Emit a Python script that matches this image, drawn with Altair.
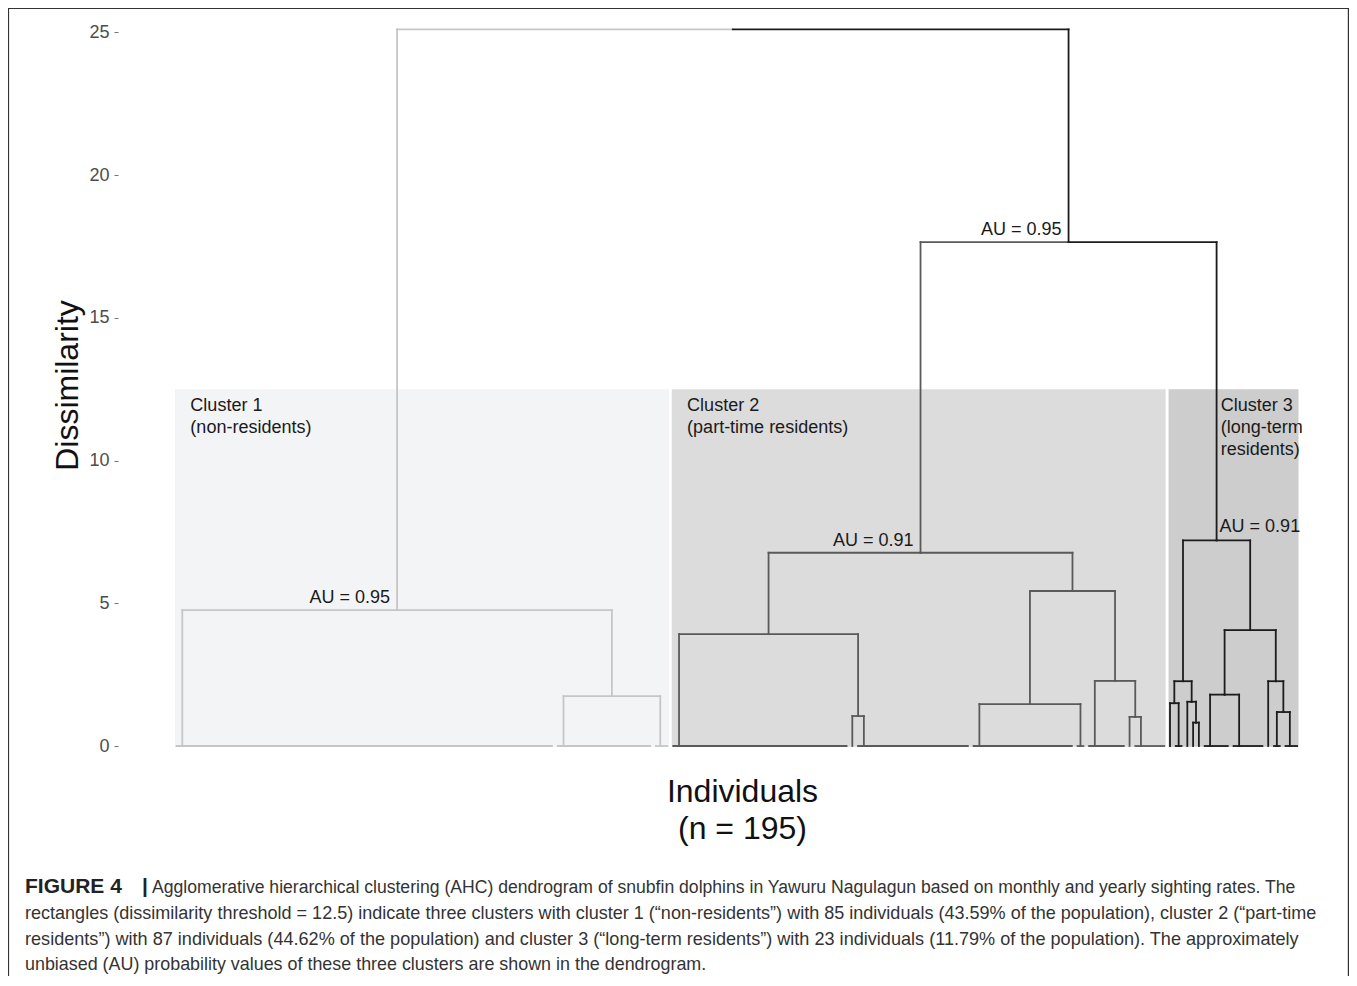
import altair as alt
import pandas as pd

# ---------------- data ----------------
# blocks of individuals that are joined at dissimilarity 0, left to right
group_sizes = [66, 17, 3, 31, 1, 20, 18, 2, 7, 1, 6, 1, 2, 1, 1, 1, 5, 6, 1, 2, 3]
group_cluster = [1, 1, 1, 2, 2, 2, 2, 2, 2, 2, 2, 3, 3, 3, 3, 3, 3, 3, 3, 3, 3]
# R-style merge table: negative = block number, positive = earlier merge row
merge_left = [-2, -1, -5, -4, -7, -10, -9, 5, 4, -12, -15, -14, 10, -17, -20, -19, 14, 13, 9, 2]
merge_right = [-3, 1, -6, 3, -8, -11, 6, 7, 8, -13, -16, 11, 12, -18, -21, 15, 16, 17, 18, 19]
merge_height = [1.75, 4.76, 1.05, 3.92, 1.47, 1.02, 2.28, 5.43, 6.77, 1.50, 0.82, 1.55,
                2.27, 1.80, 1.19, 2.27, 4.06, 7.20, 17.65, 25.10]

threshold = 12.5
cluster_ids = ["1", "2", "3"]
cluster_texts = ["Cluster 1\n(non-residents)", "Cluster 2\n(part-time residents)",
                 "Cluster 3\n(long-term\nresidents)"]
cluster_text_leaf = [3.4, 89.4, 181.8]
cluster_text_height = 12.22

au_rows = [2, 9, 19, 18]
au_values = ["0.95", "0.91", "0.95", "0.91"]
au_side = ["left", "left", "left", "right"]

caption_bold = ["FIGURE 4", "|"]
caption_lines = [
    "Agglomerative hierarchical clustering (AHC) dendrogram of snubfin dolphins in Yawuru Nagulagun based on monthly and yearly sighting rates. The",
    "rectangles (dissimilarity threshold = 12.5) indicate three clusters with cluster 1 (\u201cnon-residents\u201d) with 85 individuals (43.59% of the population), cluster 2 (\u201cpart-time",
    "residents\u201d) with 87 individuals (44.62% of the population) and cluster 3 (\u201clong-term residents\u201d) with 23 individuals (11.79% of the population). The approximately",
    "unbiased (AU) probability values of these three clusters are shown in the dendrogram.",
]

# ---------------- build dendrogram segments ----------------
segs = []
nodes_group = []
start = 1
for n, cl in zip(group_sizes, group_cluster):
    s, e = start, start + n - 1
    pos = float(e)
    for k in range(e - 1, s - 1, -1):
        pos = (k + pos) / 2.0
    if n > 1:
        segs.append(dict(x=s, x2=e, y=0.0, y2=0.0, c=str(cl)))
    nodes_group.append(dict(x=pos, h=0.0, c=str(cl), lo=s, hi=e))
    start = e + 1

nodes_merge = []


def node(ref):
    return nodes_group[-ref - 1] if ref < 0 else nodes_merge[ref - 1]


for l, r, h in zip(merge_left, merge_right, merge_height):
    L, R = node(l), node(r)
    xm = (L["x"] + R["x"]) / 2.0
    for ch in (L, R):
        segs.append(dict(x=ch["x"], x2=xm, y=h, y2=h, c=ch["c"]))
        segs.append(dict(x=ch["x"], x2=ch["x"], y=ch["h"], y2=h, c=ch["c"]))
    c = L["c"] if (L["c"] == R["c"] and L["c"] != "top") else "top"
    nodes_merge.append(dict(x=xm, h=h, c=c))

seg_df = pd.DataFrame(segs)

rect_rows = []
for cid in cluster_ids:
    lo = min(g["lo"] for g in nodes_group if g["c"] == cid)
    hi = max(g["hi"] for g in nodes_group if g["c"] == cid)
    rect_rows.append(dict(x=lo - 0.25, x2=hi + 0.25, y=-0.03, y2=threshold, c=cid))
rect_df = pd.DataFrame(rect_rows)

lab_df = pd.DataFrame(dict(x=cluster_text_leaf, y=[cluster_text_height] * 3, t=cluster_texts))

au_df = pd.DataFrame([dict(x=nodes_merge[r - 1]["x"], y=nodes_merge[r - 1]["h"],
                           t="AU = " + v, side=s) for r, v, s in zip(au_rows, au_values, au_side)])

# ---------------- chart ----------------
FONT = "Liberation Sans"
x_scale = alt.Scale(domain=[-9.13, 203.99], nice=False, zero=False)
y_scale = alt.Scale(domain=[-0.84, 25.85], nice=False, zero=False)

x_axis = alt.Axis(title=["Individuals", "(n = 195)"], labels=False, ticks=False, domain=False,
                  grid=False, titleFontSize=32, titleFont=FONT, titleFontWeight="normal",
                  titleColor="#111111", titleX=624, titleY=31, titleAlign="center",
                  titleBaseline="alphabetic", titleLineHeight=37)
y_axis = alt.Axis(title="Dissimilarity", values=[0, 5, 10, 15, 20, 25], grid=False, domain=False,
                  tickSize=4, tickColor="#777777", tickWidth=1, labelPadding=5, labelFontSize=18,
                  labelColor="#4d4d4d", labelFont=FONT, titleFontSize=32, titleFont=FONT,
                  titleFontWeight="normal", titleColor="#111111", titleAngle=270, titleX=-41,
                  titleY=377, titleAlign="center", titleBaseline="alphabetic")

rects = alt.Chart(rect_df).mark_rect().encode(
    x=alt.X("x:Q", scale=x_scale, axis=x_axis), x2="x2:Q",
    y=alt.Y("y:Q", scale=y_scale, axis=y_axis), y2="y2:Q",
    fill=alt.Fill("c:N", scale=alt.Scale(domain=cluster_ids,
                                         range=["#f3f4f6", "#dcdcdc", "#cdcdcd"]), legend=None),
)

lines = alt.Chart(seg_df).mark_rule(strokeWidth=1.8, strokeCap="square").encode(
    x=alt.X("x:Q", scale=x_scale), x2="x2:Q",
    y=alt.Y("y:Q", scale=y_scale), y2="y2:Q",
    color=alt.Color("c:N", scale=alt.Scale(domain=["1", "2", "3", "top"],
                                           range=["#c6c6c6", "#5a5a5a", "#1c1c1c", "#1c1c1c"]),
                    legend=None),
)

labels = alt.Chart(lab_df).mark_text(align="left", baseline="top", font=FONT, fontSize=18,
                                     lineHeight=22, lineBreak="\n", color="#1a1a1a").encode(
    x=alt.X("x:Q", scale=x_scale), y=alt.Y("y:Q", scale=y_scale), text="t:N")

au_left = alt.Chart(au_df[au_df.side == "left"]).mark_text(
    align="right", baseline="alphabetic", dx=-7, dy=-7, font=FONT, fontSize=18, color="#1a1a1a"
).encode(x=alt.X("x:Q", scale=x_scale), y=alt.Y("y:Q", scale=y_scale), text="t:N")

au_right = alt.Chart(au_df[au_df.side == "right"]).mark_text(
    align="left", baseline="alphabetic", dx=3, dy=-8, font=FONT, fontSize=18, color="#1a1a1a"
).encode(x=alt.X("x:Q", scale=x_scale), y=alt.Y("y:Q", scale=y_scale), text="t:N")


def cap_text(txt, px, py, size, bold=False):
    return alt.Chart(pd.DataFrame(dict(t=[txt]))).mark_text(
        align="left", baseline="alphabetic", font=FONT, fontSize=size,
        fontWeight="bold" if bold else "normal", color="#222222" if bold else "#333333"
    ).encode(x=alt.value(px), y=alt.value(py), text="t:N")


caption_layers = [
    cap_text(caption_bold[0], -93, 885, 21, bold=True),
    cap_text(caption_bold[1], 24, 885, 21, bold=True),
    cap_text(caption_lines[0], 34, 885, 17.6),
    cap_text(caption_lines[1], -93, 911, 18.05),
    cap_text(caption_lines[2], -93, 937, 18.1),
    cap_text(caption_lines[3], -93, 962, 17.9),
]

frame = alt.Chart(pd.DataFrame(dict(k=[0]))).mark_rect(
    fill=None, fillOpacity=0, stroke="#333333", strokeWidth=1.2
).encode(x=alt.value(-109.5), x2=alt.value(1230.4), y=alt.value(0.5), y2=alt.value(995))

chart = alt.layer(rects, lines, labels, au_left, au_right, *caption_layers,
                  frame).resolve_scale(
    color="independent", fill="independent"
).properties(
    width=1231, height=762,
    autosize=alt.AutoSizeParams(type="none"),
    padding={"left": 110, "top": 0, "right": 0, "bottom": 206},
    background="white",
).configure_view(strokeWidth=0)

chart.save("out.html", embed_options={"renderer": "svg", "actions": False})
